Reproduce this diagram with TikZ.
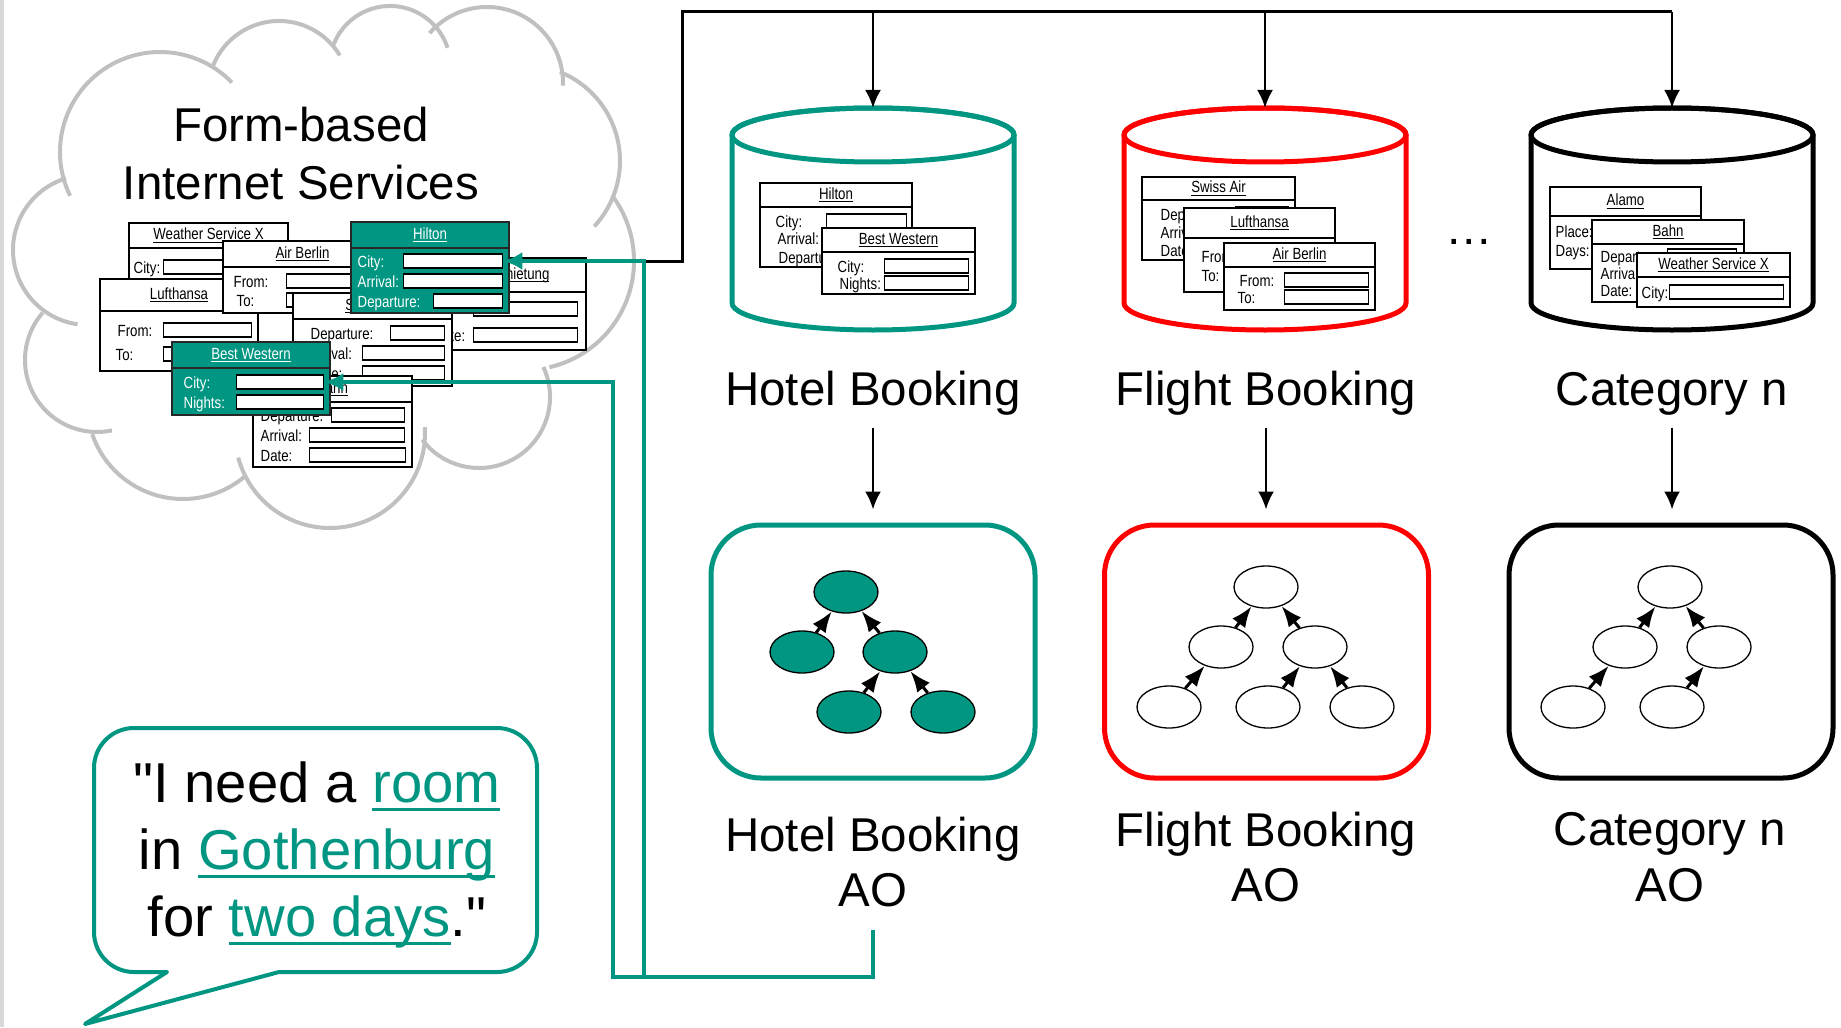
\documentclass[tikz,border=0pt]{standalone}
\usepackage{fontspec}
\setmainfont{Liberation Sans}[Ligatures=TeXOff]
\newfontfamily\formfont[FakeStretch=0.82]{Liberation Sans}
\usepackage{xcolor}
\usetikzlibrary{
    arrows.meta,
    calc,
    shapes.geometric
}

\definecolor{aoteal}{RGB}{0,150,130}
\definecolor{cloudgray}{RGB}{192,192,192}

% underlined words in the quote and in the form titles
\newcommand\keyword[1]{{\color{aoteal}\setbox0\hbox{#1}\rlap{\rule[-2.3pt]{\wd0}{0.85pt}}\box0}}
\newcommand\formul[1]{\setbox0\hbox{#1}\rlap{\rule[-0.8pt]{\wd0}{0.3pt}}\box0}

% small web form: [style]{name}{x0}{y0}{x1}{y1}{title bar y}{title}
\newcommand\webform[8][plain]{%
  \filldraw[#1form] (#3,-#4) rectangle (#5,-#6);
  \draw[#1form] (#3,-#7) -- (#5,-#7);
  \node[#1title] (#2) at ({(#3+#5)/2},{-(#4+#7)/2}) {\formul{#8}};
}
% one form row: {name}{label}{label x}{y}{box x0}{box x1}
\newcommand\formfield[6]{%
  \node[fieldlabel, anchor=base west] at (#3,{-#4-6}) {#2};
  \node[fieldbox, anchor=west, minimum width={(#6-#5)*0.1mm}] (#1) at (#5,-#4) {};
}
% database cylinder: {name}{centre x}{colour}
\newcommand\datastore[3]{%
  \filldraw[fill=white, draw=#3, line width=0.5mm]
    ({#2-141},-135) -- ({#2-141},-303)
    arc[start angle=180, end angle=360, x radius=141, y radius=27]
    -- ({#2+141},-135)
    arc[start angle=0, end angle=180, x radius=141, y radius=27];
  \draw[#3, line width=0.5mm] (#2,-135) ellipse[x radius=141, y radius=27];
  \node[inner sep=0, minimum width=28.2mm, minimum height=22.2mm, anchor=north] (#1) at (#2,-108) {};
}

\begin{document}
\begin{tikzpicture}[
    x=0.1mm, y=0.1mm,
    font=\fontsize{13.5}{15.9}\selectfont,
    cloudline/.style={draw=cloudgray, line width=0.4mm},
    plainform/.style={fill=white, draw=black, line width=0.15mm},
    tealform/.style={fill=aoteal, draw=black!85, line width=0.15mm},
    plaintitle/.style={font=\formfont\fontsize{4.6}{5.5}\selectfont, text=black, inner sep=0},
    tealtitle/.style={plaintitle, text=white},
    fieldlabel/.style={font=\formfont\fontsize{4.6}{5.5}\selectfont, text=black, inner sep=0},
    fieldbox/.style={draw=black, fill=white, line width=0.13mm, minimum height=1.4mm, inner sep=0},
    caption/.style={inner sep=0, text=black},
    aobox/.style={
        rectangle,
        rounded corners=5mm,
        line width=0.5mm,
        minimum width=32.4mm,
        minimum height=25.3mm,
        fill=white
    },
    treenode/.style={ellipse, draw=black, line width=0.13mm, minimum width=6.4mm, minimum height=4.2mm, inner sep=0},
    treearrow/.style={-{Latex[length=2.1mm,width=1.6mm]}, line width=0.3mm},
    bus/.style={line width=0.3mm, draw=black},
    drop/.style={-{Latex[length=1.8mm,width=1.6mm]}, line width=0.25mm, draw=black},
    link/.style={-{Latex[length=1.9mm,width=1.8mm]}, line width=0.4mm, draw=aoteal},
    bubble/.style={draw=aoteal, line width=0.4mm, fill=white, line join=round}
]
\useasboundingbox (0,0) rectangle (1841,-1027);
\draw[gray!30, line width=0.35mm] (2,0) -- (2,-1027);

% =========================================================
% Cloud of form-based services
% =========================================================
\foreach \cx/\cy/\rad/\sa/\ea in {88/250/75/107/262, 160/152/100/206/44, 279/92/71/159/31,
    390/66.5/60.5/159/18, 487/83/76/139/-2, 524/161/96/68/-43, 525/261/109/37/-77,
    479/397/71/25/-143, 330/433/95/3.5/-165, 183/403/96/-49/-161, 97/360/72/139/282}
  \draw[cloudline] ($(\cx,-\cy)+(\sa:\rad)$) arc[start angle=\sa, end angle=\ea, radius=\rad];

\node[caption, align=center, font=\fontsize{13.5}{16.5}\selectfont] (cloudTitle) at (301,-154) {Form-based\\Internet Services};

\webform{wsxCloud}{129}{223}{288}{282}{248}{Weather Service X}
\formfield{wsxCity}{City:}{133}{267}{163}{255}

\webform{lhCloud}{100}{279}{258}{371}{311}{Lufthansa}
\formfield{lhFrom}{From:}{117}{330}{163}{251}
\formfield{lhTo}{To:}{115}{354}{163}{251}

\webform{abCloud}{223}{241}{382}{313}{267}{Air Berlin}
\formfield{abFrom}{From:}{233}{281}{286}{370}
\formfield{abTo}{To:}{236}{300}{286}{370}

\webform{avCloud}{420}{258}{586}{350}{292}{Autovermietung}
\formfield{avPlace}{}{424}{309}{473}{577}
\formfield{avBrand}{Marke:}{424}{335}{473}{577}

\webform{saCloud}{293}{293}{452}{386}{319}{Swiss Air}
\formfield{saDep}{Departure:}{310}{333}{390}{444}
\formfield{saArr}{Arrival:}{310}{353}{362}{444}
\formfield{saDate}{Date:}{310}{373}{362}{444}

\webform{bahnCloud}{253}{376}{412}{467}{402}{Bahn}
\formfield{bahnDep}{Departure:}{260}{415}{331}{404}
\formfield{bahnArr}{Arrival:}{260}{435}{309}{404}
\formfield{bahnDate}{Date:}{260}{455}{309}{405}

\begin{scope}[fieldlabel/.append style={text=white}]
\webform[teal]{hilCloud}{351}{222}{509}{313}{248}{Hilton}
\formfield{hilCity}{City:}{357}{261}{403}{502}
\formfield{hilArr}{Arrival:}{357}{281}{403}{502}
\formfield{hilDep}{Departure:}{357}{301}{433}{502}

\webform[teal]{bwCloud}{172}{342}{330}{415}{368}{Best Western}
\formfield{bwCity}{City:}{183}{382}{236}{323}
\formfield{bwNights}{Nights:}{183}{402}{236}{323}
\end{scope}

% =========================================================
% Category stores
% =========================================================
\datastore{dbHotel}{873}{aoteal}
\webform{hilDb}{760}{183}{912}{267}{207}{Hilton}
\formfield{hilDbCity}{City:}{775}{221}{826}{906}
\formfield{hilDbArr}{Arrival:}{777}{239}{826}{906}
\formfield{hilDbDep}{Departure:}{778}{257}{826}{906}
\webform{bwDb}{822}{228}{975}{294}{252}{Best Western}
\formfield{bwDbCity}{City:}{837}{266}{884}{968}
\formfield{bwDbNights}{Nights:}{839}{283}{884}{968}

\datastore{dbFlight}{1265}{red}
\webform{saDb}{1142}{177}{1295}{260}{200}{Swiss Air}
\formfield{saDbDep}{Departure:}{1160}{214}{1235}{1288}
\formfield{saDbArr}{Arrival:}{1160}{232}{1212}{1288}
\formfield{saDbDate}{Date:}{1160}{250}{1212}{1288}
\webform{lhDb}{1184}{208}{1335}{292}{238}{Lufthansa}
\formfield{lhDbFrom}{From:}{1201}{256}{1250}{1328}
\formfield{lhDbTo}{To:}{1201}{275}{1250}{1328}
\webform{abDb}{1224}{243}{1375}{310}{267}{Air Berlin}
\formfield{abDbFrom}{From:}{1239}{280}{1284}{1368}
\formfield{abDbTo}{To:}{1237}{297}{1284}{1368}

\datastore{dbCat}{1672}{black}
\webform{alDb}{1550}{187}{1701}{269}{216}{Alamo}
\formfield{alDbPlace}{Place:}{1555}{231}{1620}{1692}
\formfield{alDbDays}{Days:}{1555}{250}{1620}{1692}
\webform{bahnDb}{1592}{220}{1744}{302}{244}{Bahn}
\formfield{bahnDbDep}{Departure:}{1600}{256}{1667}{1736}
\formfield{bahnDbArr}{Arrival:}{1600}{273}{1667}{1736}
\formfield{bahnDbDate}{Date:}{1600}{290}{1667}{1736}
\webform{wsxDb}{1637}{253}{1790}{307}{277}{Weather Service X}
\formfield{wsxDbCity}{City:}{1641}{292}{1669}{1783}

\node[caption, anchor=base] (dots) at (1469,-244) {…};

\node[caption, anchor=base] (lblHotel) at (873,-405) {Hotel Booking};
\node[caption, anchor=base] (lblFlight) at (1266,-405) {Flight Booking};
\node[caption, anchor=base] (lblCat) at (1672,-405) {Category n};

% =========================================================
% Application ontologies
% =========================================================
\node[aobox, draw=aoteal] (aoHotel) at (873,-651.5) {};
\node[aobox, draw=red] (aoFlight) at (1266.5,-651.5) {};
\node[aobox, draw=black] (aoCat) at (1671,-651.5) {};

\node[treenode, fill=aoteal] (hRoot) at (846,-592) {};
\node[treenode, fill=aoteal] (hMidL) at (802,-652) {};
\node[treenode, fill=aoteal] (hMidR) at (895,-652) {};
\node[treenode, fill=aoteal] (hBotL) at (849,-712) {};
\node[treenode, fill=aoteal] (hBotR) at (943,-712) {};
\foreach \c/\p in {hMidL/hRoot, hMidR/hRoot, hBotL/hMidR, hBotR/hMidR}
  \draw[treearrow] (\c) -- (\p);

\node[treenode] (fRoot) at (1266,-587) {};
\node[treenode] (fMidL) at (1221,-647) {};
\node[treenode] (fMidR) at (1315,-647) {};
\node[treenode] (fBotL) at (1169,-707) {};
\node[treenode] (fBotM) at (1268,-707) {};
\node[treenode] (fBotR) at (1362,-707) {};
\foreach \c/\p in {fMidL/fRoot, fMidR/fRoot, fBotL/fMidL, fBotM/fMidR, fBotR/fMidR}
  \draw[treearrow] (\c) -- (\p);

\node[treenode] (cRoot) at (1670,-587) {};
\node[treenode] (cMidL) at (1625,-647) {};
\node[treenode] (cMidR) at (1719,-647) {};
\node[treenode] (cBotL) at (1573,-707) {};
\node[treenode] (cBotM) at (1672,-707) {};
\foreach \c/\p in {cMidL/cRoot, cMidR/cRoot, cBotL/cMidL, cBotM/cMidR}
  \draw[treearrow] (\c) -- (\p);

\node[caption, align=center] (lblAOHotel) at (873,-862) {Hotel Booking\\AO};
\node[caption, align=center] (lblAOFlight) at (1266,-857) {Flight Booking\\AO};
\node[caption, align=center] (lblAOCat) at (1670,-857) {Category n\\AO};

% =========================================================
% User request
% =========================================================
\filldraw[bubble] (279,-972) -- (497,-972) arc[start angle=270, end angle=360, radius=40]
    -- (537,-768) arc[start angle=0, end angle=90, radius=40]
    -- (134,-728) arc[start angle=90, end angle=180, radius=40]
    -- (94,-932) arc[start angle=180, end angle=270, radius=40]
    -- (167,-972) -- (85,-1024) -- cycle;
\node[caption, align=center, font=\fontsize{16}{19.1}\selectfont] (request) at (317,-855)
    {"I need a \keyword{room}\\in \keyword{Gothenburg}\\for \keyword{two days}."};

% =========================================================
% Connectors
% =========================================================
\coordinate (tealUp) at (644,-977);
\coordinate (tealLeft) at (613,-977);
\coordinate (busTop) at (682,-12);

\draw[bus] (tealUp |- hilCity.east) -| (busTop) -- (busTop -| dbCat.north);
\draw[drop] (busTop -| dbHotel.north) -- (dbHotel.north);
\draw[drop] (busTop -| dbFlight.north) -- (dbFlight.north);
\draw[drop] (busTop -| dbCat.north) -- (dbCat.north);

\draw[drop, shorten <=1.2mm, shorten >=1.3mm] (lblHotel.south) -- (lblHotel.south |- aoHotel.north);
\draw[drop, shorten <=1.2mm, shorten >=1.3mm] (lblFlight.south) -- (lblFlight.south |- aoFlight.north);
\draw[drop, shorten <=1.2mm, shorten >=1.3mm] (lblCat.south) -- (lblCat.south |- aoCat.north);

\draw[link, shorten <=2.2mm] (lblAOHotel.south) |- (tealLeft) |- (bwCity.east);
\draw[link, shorten <=2.2mm] (lblAOHotel.south) |- (tealUp) |- (hilCity.east);

\end{tikzpicture}
\end{document}
